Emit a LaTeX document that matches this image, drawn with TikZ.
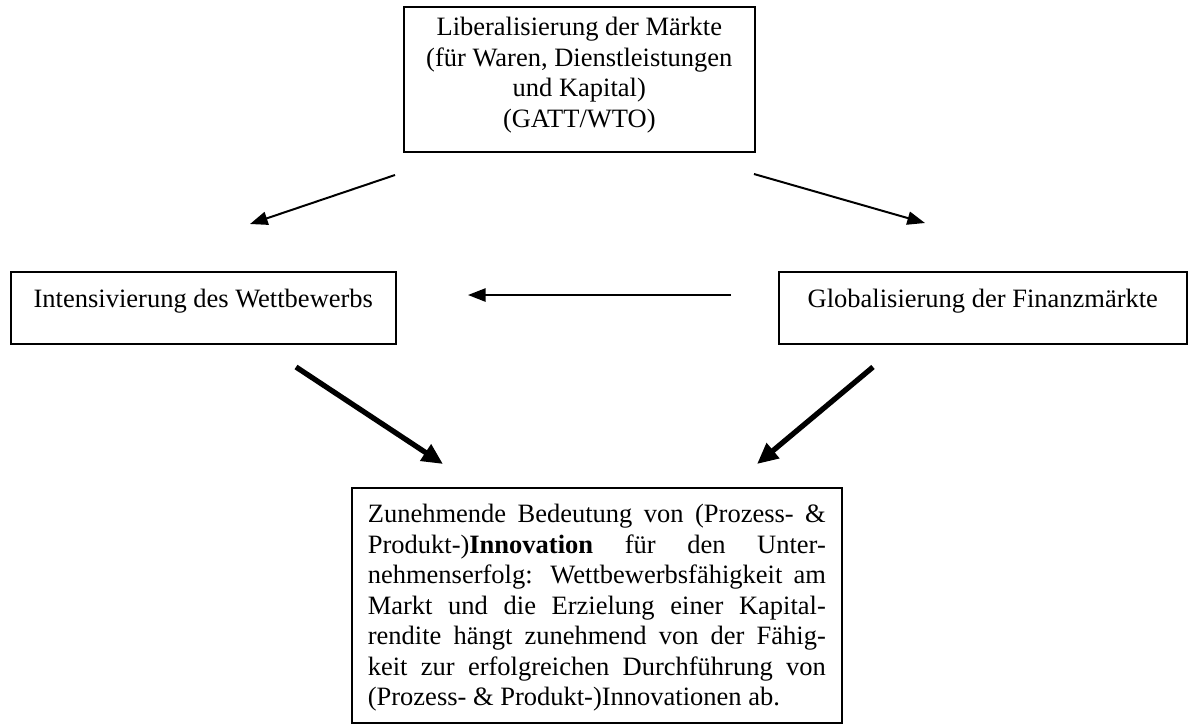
\documentclass[tikz,border=0pt]{standalone}
\usepackage{fontspec}
\setmainfont{Liberation Serif}
\usetikzlibrary{arrows.meta}
\newlength\px
\setlength\px{0.4528pt}
\hbadness=10000
\begin{document}
\begin{tikzpicture}[x=\px,y=-\px,
  box/.style={draw, line width=0.75pt, inner sep=0pt, anchor=north west,
    font=\fontsize{12pt}{13.8pt}\selectfont},
  thinarrow/.style={line width=0.9pt, -{Triangle[length=8pt,width=6pt]}},
  thickarrow/.style={line width=2.4pt, -{Triangle[length=9.5pt,width=8.5pt]}}]
\useasboundingbox (0,0) rectangle (1188,724);
\fill[white] (0,0) rectangle (1188,724);

\node[box] (lib) at (403,6) {\parbox[t][145\px][t]{351\px}{\centering
  \rule{0pt}{29\px}Liberalisierung der Märkte\\
  (für Waren, Dienstleistungen\\
  und Kapital)\\
  (GATT/WTO)}};

\node[box] (int) at (10,271) {\parbox[t][72\px][t]{385\px}{\centering
  \rule{0pt}{36\px}Intensivierung des Wettbewerbs}};

\node[box] (glo) at (778,271) {\parbox[t][72\px][t]{408\px}{\centering
  \rule{0pt}{36\px}Globalisierung der Finanzmärkte}};

\node[box, inner xsep=16\px] (inn) at (351,487) {\parbox[t][235\px][t]{458\px}{%
  \rule{0pt}{35\px}Zunehmende Bedeutung von (Prozess- \&\linebreak
  Produkt-)\textbf{Innovation} für den Unter-\linebreak
  nehmenserfolg: Wettbewerbsfähigkeit am\linebreak
  Markt und die Erzielung einer Kapital-\linebreak
  rendite hängt zunehmend von der Fähig-\linebreak
  keit zur erfolgreichen Durchführung von\linebreak
  (Prozess- \& Produkt-)Innovationen ab.}};

\coordinate (a1s) at (395,175);
\coordinate (a1e) at (250,224);
\coordinate (a2s) at (754,174);
\coordinate (a2e) at (925,223);
\coordinate (a3s) at (731,295);
\coordinate (a3e) at (468,295);
\coordinate (a4s) at (296,367);
\coordinate (a4e) at (443,464);
\coordinate (a5s) at (873,367);
\coordinate (a5e) at (757,464);

\draw[thinarrow] (a1s) -- (a1e);
\draw[thinarrow] (a2s) -- (a2e);
\draw[thinarrow] (a3s) -- (a3e);
\draw[thickarrow] (a4s) -- (a4e);
\draw[thickarrow] (a5s) -- (a5e);
\end{tikzpicture}
\end{document}
